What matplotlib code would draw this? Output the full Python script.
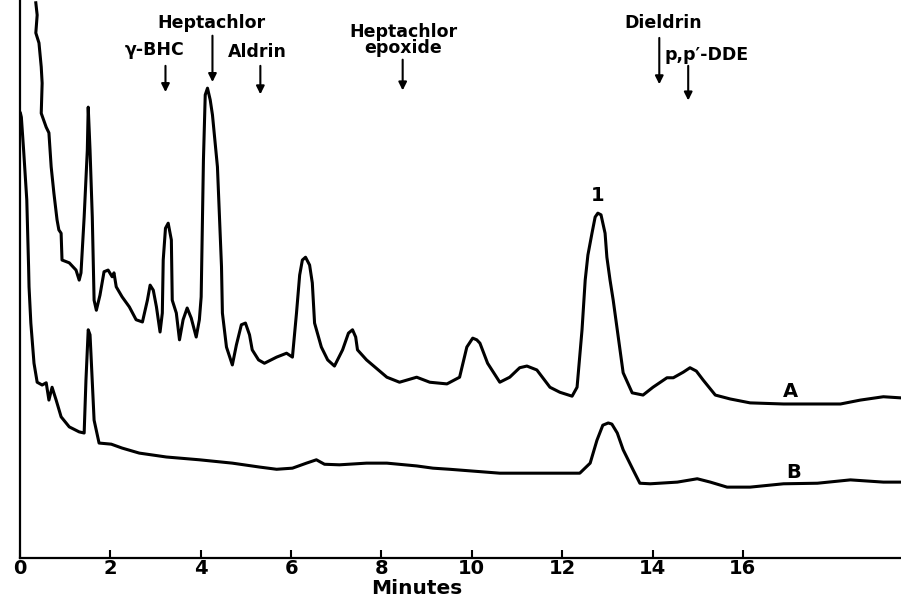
import matplotlib.pyplot as plt

# curve A: sample extract (minutes, relative response)
a_time = [0.35, 0.38, 0.35, 0.42, 0.47, 0.49, 0.47, 0.58, 0.64, 0.69, 0.75, 0.82, 0.86, 0.91,
          0.93, 1.09, 1.24, 1.31, 1.35, 1.42, 1.49, 1.51, 1.55, 1.60, 1.64, 1.69, 1.77, 1.86,
          1.95, 2.04, 2.08, 2.13, 2.26, 2.42, 2.57, 2.71, 2.82, 2.88, 2.95, 3.02, 3.10, 3.15,
          3.17, 3.22, 3.28, 3.35, 3.37, 3.46, 3.53, 3.61, 3.70, 3.79, 3.90, 3.97, 4.01, 4.06,
          4.10, 4.15, 4.21, 4.26, 4.37, 4.46, 4.48, 4.57, 4.70, 4.79, 4.90, 4.99, 5.08, 5.14,
          5.28, 5.41, 5.68, 5.90, 6.03, 6.12, 6.19, 6.25, 6.32, 6.41, 6.47, 6.52, 6.67, 6.81,
          6.96, 7.14, 7.27, 7.36, 7.43, 7.47, 7.67, 8.12, 8.40, 8.78, 9.07, 9.45, 9.73, 9.89,
          10.02, 10.11, 10.18, 10.35, 10.62, 10.84, 11.06, 11.22, 11.44, 11.73, 11.95, 12.22,
          12.33, 12.44, 12.51, 12.57, 12.66, 12.73, 12.79, 12.86, 12.95, 12.99, 13.06, 13.13,
          13.22, 13.35, 13.55, 13.79, 14.01, 14.32, 14.46, 14.68, 14.83, 14.97, 15.12, 15.39,
          15.72, 16.16, 16.90, 17.65, 18.16, 18.60, 19.11, 19.49]
a_resp = [99.5, 97.3, 94.1, 92.3, 88.0, 85.1, 79.7, 77.2, 76.2, 70.1, 65.4, 60.6, 58.8, 58.2,
          53.4, 52.9, 51.6, 49.8, 51.1, 61.1, 73.1, 80.8, 73.1, 61.1, 46.2, 44.4, 47.1, 51.3,
          51.6, 50.4, 51.1, 48.6, 46.8, 45.0, 42.7, 42.3, 46.2, 48.9, 48.0, 45.0, 40.5, 43.9,
          53.4, 59.1, 60.0, 57.0, 46.2, 43.9, 39.1, 42.7, 44.8, 43.0, 39.6, 42.7, 46.8, 71.3,
          83.0, 84.2, 82.1, 79.4, 70.1, 52.2, 43.9, 37.8, 34.6, 38.2, 41.8, 42.1, 40.0, 37.3,
          35.5, 34.9, 36.0, 36.7, 36.0, 43.9, 50.7, 53.4, 53.9, 52.5, 49.3, 42.1, 37.8, 35.5,
          34.4, 37.3, 40.3, 40.9, 39.6, 37.3, 35.5, 32.4, 31.5, 32.4, 31.5, 31.2, 32.4, 37.8,
          39.4, 39.1, 38.5, 34.9, 31.5, 32.4, 34.1, 34.4, 33.7, 30.6, 29.7, 29.0,
          30.6, 40.9, 49.8, 54.3, 58.2, 61.1, 61.8, 61.5, 58.2, 53.9, 49.8, 46.2,
          40.9, 33.2, 29.6, 29.2, 30.6, 32.3, 32.3, 33.3, 34.1, 33.5, 31.9, 29.2,
          28.5, 27.8, 27.6, 27.6, 27.6, 28.3, 28.9, 28.7]

# curve B: blank
b_time = [0.01, 0.03, 0.08, 0.15, 0.19, 0.20, 0.24, 0.31, 0.38, 0.49, 0.58, 0.64, 0.71, 0.80,
          0.91, 1.09, 1.31, 1.42, 1.46, 1.51, 1.55, 1.57, 1.64, 1.75, 2.02, 2.26, 2.64, 3.24,
          3.97, 4.70, 5.30, 5.68, 6.03, 6.34, 6.56, 6.74, 7.07, 7.67, 8.12, 8.78, 9.14, 9.51,
          10.62, 11.35, 12.39, 12.62, 12.77, 12.90, 13.02, 13.10, 13.22, 13.35, 13.57, 13.72,
          13.95, 14.55, 14.99, 15.28, 15.65, 16.16, 16.90, 17.65, 18.38, 19.11, 19.49]
b_resp = [79.7, 79.0, 73.1, 64.2, 52.2, 48.6, 42.1, 34.9, 31.5, 31.0, 31.4, 28.3, 30.6, 28.3,
          25.3, 23.5, 22.6, 22.4, 31.9, 40.9, 40.0, 36.7, 24.7, 20.6, 20.4, 19.7, 18.8, 18.1,
          17.6, 17.0, 16.3, 15.9, 16.1, 17.0, 17.6, 16.8, 16.7, 17.0, 17.0, 16.5, 16.1, 15.9,
          15.2, 15.2, 15.2, 17.0, 21.1, 23.8, 24.2, 24.0, 22.4, 19.4, 15.8, 13.4,
          13.3, 13.6, 14.2, 13.6, 12.7, 12.7, 13.3, 13.4, 14.0, 13.6, 13.6]

# retention markers at the top
compounds = ["\u03b3-BHC", "Heptachlor", "Aldrin", "Heptachlor\nepoxide", "Dieldrin", "p,p\u2032-DDE"]
ret_times = [3.22, 4.26, 5.32, 8.47, 14.15, 14.79]
arrow_top = [88.7, 94.1, 88.7, 89.8, 93.7, 88.7]
arrow_tip = [83.0, 84.8, 82.6, 83.3, 84.4, 81.5]
label_x = [2.97, 4.24, 5.25, 8.49, 14.23, 15.19]
label_y = [91.0, 95.9, 90.7, 92.8, 95.9, 90.1]

x_ticks = [0, 2, 4, 6, 8, 10, 12, 14, 16]


def main():
    fig = plt.figure(figsize=(9.01, 5.98), dpi=100)
    ax = fig.add_axes([20 / 901, 40 / 598, 881 / 901, 558 / 598])

    ax.plot(a_time, a_resp, color="black", lw=2.2, solid_joinstyle="round")
    ax.plot(b_time, b_resp, color="black", lw=2.2, solid_joinstyle="round")

    for name, t, top, tip, lx, ly in zip(compounds, ret_times, arrow_top, arrow_tip, label_x, label_y):
        ax.annotate("", xy=(t, tip), xytext=(t, top),
                    arrowprops=dict(arrowstyle="-|>", color="black", lw=1.5, mutation_scale=12))
        ax.text(lx, ly, name, ha="center", va="center", fontsize=12.5, fontweight="bold",
                linespacing=0.9)

    ax.text(12.79, 64.9, "1", ha="center", va="center", fontsize=14, fontweight="bold")
    ax.text(17.05, 29.8, "A", ha="center", va="center", fontsize=14, fontweight="bold")
    ax.text(17.12, 15.3, "B", ha="center", va="center", fontsize=14, fontweight="bold")

    ax.set_xlim(0, 19.5)
    ax.set_ylim(0, 100)
    ax.set_xticks(x_ticks)
    ax.set_xticklabels([str(t) for t in x_ticks], fontsize=14, fontweight="bold")
    ax.set_yticks([])
    ax.tick_params(axis="x", direction="in", length=6, width=1.5, pad=1)
    for side in ["top", "right"]:
        ax.spines[side].set_visible(False)
    for side in ["left", "bottom"]:
        ax.spines[side].set_linewidth(1.6)

    ax.set_xlabel("Minutes", fontsize=14.5, fontweight="bold")
    ax.xaxis.set_label_coords(0.45, -0.038)

    fig.savefig("out.png", dpi=100)


if __name__ == "__main__":
    main()
